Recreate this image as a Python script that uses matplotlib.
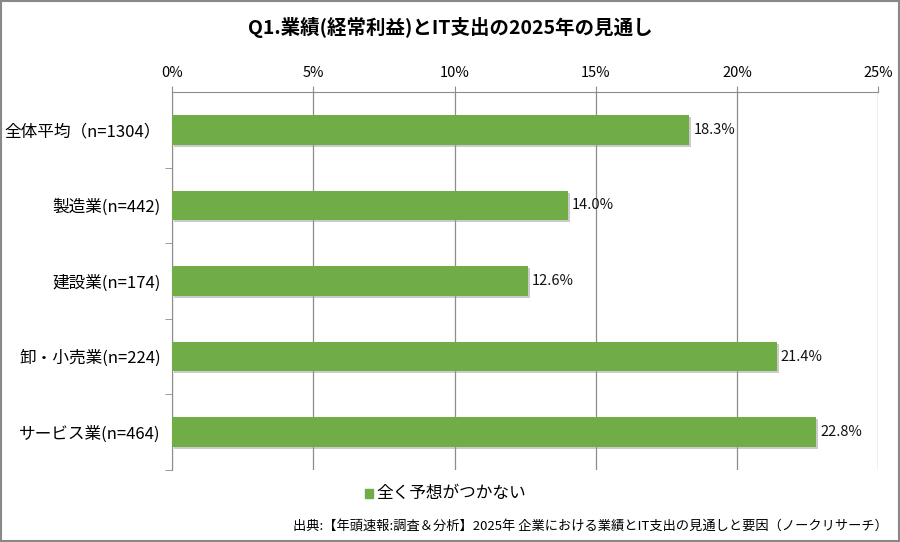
import matplotlib
matplotlib.use("Agg")
import matplotlib.pyplot as plt
import matplotlib.patheffects as pe
from matplotlib.patches import Rectangle

plt.rcParams['font.family'] = ['Noto Sans CJK JP', 'DejaVu Sans']

categories = ["全体平均（n=1304）", "製造業(n=442)", "建設業(n=174)", "卸・小売業(n=224)", "サービス業(n=464)"]
values = [18.3, 14.0, 12.6, 21.4, 22.8]
x_ticks = [0, 5, 10, 15, 20, 25]
x_labels = ["0%", "5%", "10%", "15%", "20%", "25%"]
series_name = "全く予想がつかない"
title = "Q1.業績(経常利益)とIT支出の2025年の見通し"
source = "出典:【年頭速報:調査＆分析】2025年 企業における業績とIT支出の見通しと要因（ノークリサーチ）"

bar_color = "#70AD47"
grid_color = "#8C8C8C"

fig = plt.figure(figsize=(9, 5.42), dpi=100)
ax = fig.add_axes([0.191, 0.133, 0.785, 0.697])

y = list(range(len(categories)))
bars = ax.barh(y, values, height=0.39, color=bar_color, zorder=3)
for b in bars:
    b.set_path_effects([pe.SimplePatchShadow(offset=(1.5, -1.5), shadow_rgbFace="#999999", alpha=0.5), pe.Normal()])

for yi, v in zip(y, values):
    ax.text(v + 0.15, yi, f"{v:.1f}%", va="center", ha="left", fontsize=10.5, color="#111111")

ax.set_xlim(0, 25)
ax.set_ylim(len(categories) - 0.5, -0.5)
ax.set_xticks(x_ticks)
ax.set_xticklabels(x_labels, fontsize=10.5)
ax.xaxis.tick_top()
ax.tick_params(axis="x", length=4, color=grid_color, pad=5)
ax.xaxis.grid(True, color=grid_color, linewidth=0.9, zorder=0)

ax.set_yticks(y)
ax.set_yticklabels(categories, fontsize=12)
ax.tick_params(axis="y", length=0, pad=8)
ax.set_yticks([i + 0.5 for i in range(len(categories))], minor=True)
ax.tick_params(axis="y", which="minor", length=5, color=grid_color)

for side in ["right", "bottom"]:
    ax.spines[side].set_visible(False)
ax.spines["top"].set_color(grid_color)
ax.spines["left"].set_color(grid_color)

fig.text(0.5, 0.95, title, ha="center", va="center", fontsize=14, fontweight="bold")

# legend
fig.patches.append(Rectangle((0.405, 0.082), 0.009, 0.016, transform=fig.transFigure, color=bar_color))
fig.text(0.418, 0.09, series_name, ha="left", va="center", fontsize=12)

fig.text(0.987, 0.03, source, ha="right", va="center", fontsize=9.5)

fig.patches.append(Rectangle((0.001, 0.001), 0.998, 0.998, transform=fig.transFigure, fill=False, edgecolor="#888888", linewidth=1.5))

fig.savefig("out.png", dpi=100)
